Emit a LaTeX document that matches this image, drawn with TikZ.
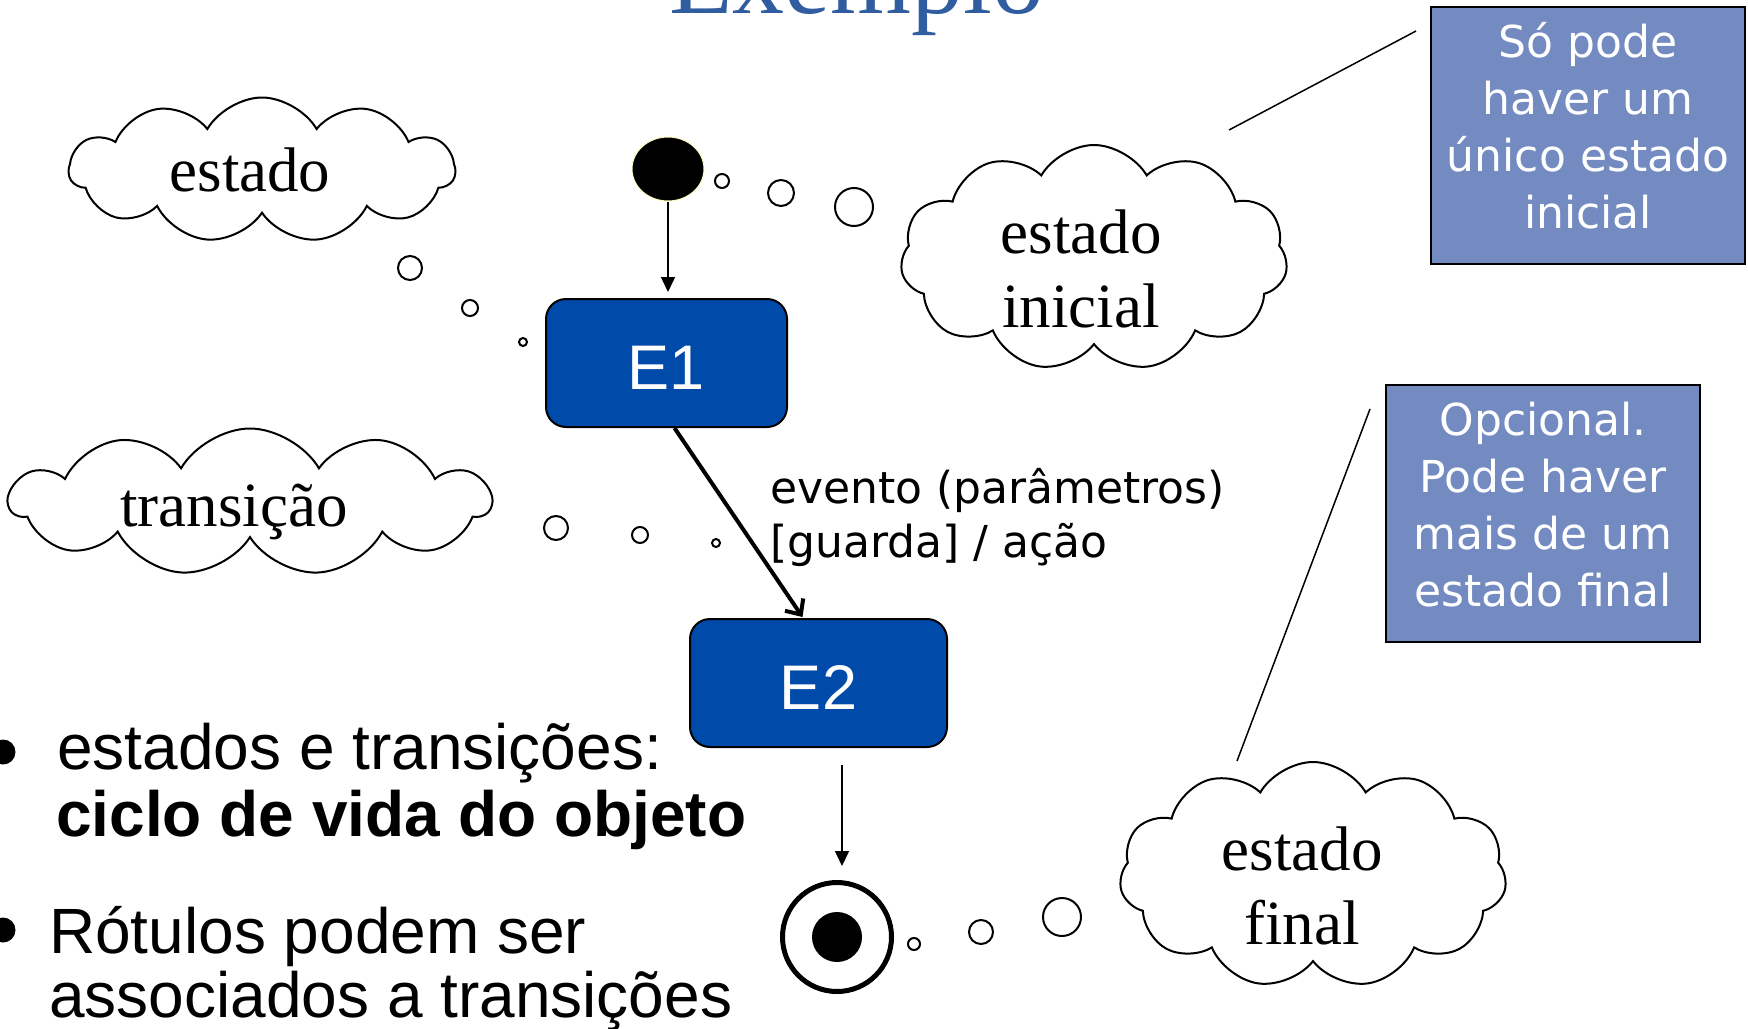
\documentclass[tikz,border=0pt]{standalone}
\usepackage{fontspec}
\setmainfont{Liberation Serif}
\newfontfamily\arialf{Liberation Sans}
\newfontfamily\comicf{DejaVu Sans}
\usetikzlibrary{shapes.geometric,shapes.symbols,arrows.meta}
\definecolor{titleblue}{RGB}{47,93,160}
\definecolor{stateblue}{RGB}{0,74,170}
\definecolor{noteblue}{RGB}{115,139,193}
\begin{document}
\begin{tikzpicture}[x=1pt,y=-1pt,
  thought/.style={cloud, cloud puffs=11, cloud puff arc=120, cloud ignores aspect, draw=black, line width=2pt, fill=white, inner sep=0pt},
  cloudtext/.style={inner sep=0pt, align=center, font=\fontsize{63}{74}\selectfont},
  bubble/.style={circle, draw=black, line width=2pt, inner sep=0pt},
  statebox/.style={rectangle, rounded corners=20pt, draw=black, line width=2pt, fill=stateblue, text=white, font=\arialf\fontsize{63}{63}\selectfont, text height=53pt, minimum height=128pt},
  notebox/.style={rectangle, draw=black, line width=2pt, fill=noteblue, minimum width=314pt, minimum height=257pt},
  notetext/.style={inner sep=0pt, text=white, align=center, font=\comicf\fontsize{44}{57}\selectfont},
  smallarrow/.style={line width=1.5pt, -{Triangle[length=15pt,width=14pt]}},
  trans/.style={line width=4pt, -{Straight Barb[length=12pt,width=22pt]}},
  callout/.style={line width=1.5pt},
  bullettext/.style={anchor=base west, inner sep=0pt, font=\arialf\fontsize{64}{64}\selectfont},
  lbl/.style={anchor=base west, inner sep=0pt, font=\comicf\fontsize{44}{50}\selectfont},
  bulletdot/.style={circle, fill=black, minimum size=25pt, inner sep=0pt}
]
\useasboundingbox (0,0) rectangle (1748,1028);
\clip (0,0) rectangle (1748,1028);

% title
\node[anchor=base, inner sep=0pt, text=titleblue, font=\fontsize{104}{104}\selectfont] (title) at (857,13) {Exemplo};

% clouds
\node[thought, minimum width=386pt, minimum height=145pt] (cstate) at (262,170) {};
\node[cloudtext] (cstate-t) at ([xshift=-12pt]cstate.center) {estado};
\node[thought, minimum width=387pt, minimum height=226pt] (cinit) at (1094,258) {};
\node[cloudtext] (cinit-t) at ([xshift=-13pt,yshift=-11pt]cinit.center) {estado\\inicial};
\node[thought, minimum width=481pt, minimum height=147pt] (ctrans) at (250,502) {};
\node[cloudtext] (ctrans-t) at ([xshift=-16pt,yshift=-10pt]ctrans.center) {transição};
\node[thought, minimum width=387pt, minimum height=226pt] (cfinal) at (1313,875) {};
\node[cloudtext] (cfinal-t) at ([xshift=-11pt,yshift=-11pt]cfinal.center) {estado\\final};

% bubbles
\node[bubble, minimum size=24pt] (bs1) at (410,268) {};
\node[bubble, minimum size=16pt] (bs2) at (470,308) {};
\node[bubble, minimum size=8pt] (bs3) at (523,342) {};
\node[bubble, minimum size=14pt] (bi1) at (722,181) {};
\node[bubble, minimum size=26pt] (bi2) at (781,193) {};
\node[bubble, minimum size=38pt] (bi3) at (854,207) {};
\node[bubble, minimum size=24pt] (bt1) at (556,528) {};
\node[bubble, minimum size=16pt] (bt2) at (640,535) {};
\node[bubble, minimum size=8pt] (bt3) at (716,543) {};
\node[bubble, minimum size=12pt] (bf1) at (914,944) {};
\node[bubble, minimum size=24pt] (bf2) at (981,932) {};
\node[bubble, minimum size=38pt] (bf3) at (1062,917) {};

% states
\node[ellipse, fill=black, draw=yellow!25, line width=1pt, minimum width=72pt, minimum height=64pt, inner sep=0pt] (init) at (668,169) {};
\node[statebox, minimum width=241pt] (e1) at (666.5,363) {E1};
\node[statebox, minimum width=257pt] (e2) at (818.5,683) {E2};
\node[circle, draw=black, line width=5pt, minimum size=109pt, inner sep=0pt] (fin) at (837,937) {};
\node[circle, fill=black, minimum size=50pt, inner sep=0pt] (fincore) at (fin.center) {};

% connectors
\coordinate (e1top) at (init.south |- e1.north);
\draw[smallarrow] (init.south) -- ([yshift=6pt]e1top);
\draw[trans] ([xshift=8pt]e1.south) -- ([xshift=-16pt,yshift=1pt]e2.north);
\draw[smallarrow] ([xshift=23.5pt,yshift=-17pt]e2.south) -- ([xshift=5pt,yshift=14pt]fin.north);

% transition label
\node[lbl] (ev1) at (770,503) {evento (parâmetros)};
\node[lbl] (ev2) at (770,557) {[guarda] / ação};

% notes
\node[notebox] (note1) at (1588,135.5) {};
\node[notetext] (note1-t) at ([yshift=10pt]note1.center) {Só pode\\haver um\\único estado\\inicial};
\node[notebox] (note2) at (1543,513.5) {};
\node[notetext] (note2-t) at ([yshift=9pt]note2.center) {Opcional.\\Pode haver\\mais de um\\estado final};
\coordinate (q1a) at (1229,130);
\coordinate (q1b) at (1416,31);
\draw[callout] (q1a) -- (q1b);
\coordinate (q2a) at (1237,761);
\coordinate (q2b) at (1370,409);
\draw[callout] (q2a) -- (q2b);

% bullets
\node[bulletdot] (dot1) at (3,752) {};
\node[bulletdot] (dot2) at (3,930) {};
\node[bullettext] (t1) at (57,769) {estados e transições:};
\node[bullettext, font=\arialf\bfseries\fontsize{64}{64}\selectfont] (t2) at (56,836) {ciclo de vida do objeto};
\node[bullettext] (t3) at (49,953) {Rótulos podem ser};
\node[bullettext] (t4) at (49,1017) {associados a transições};
\end{tikzpicture}
\end{document}
